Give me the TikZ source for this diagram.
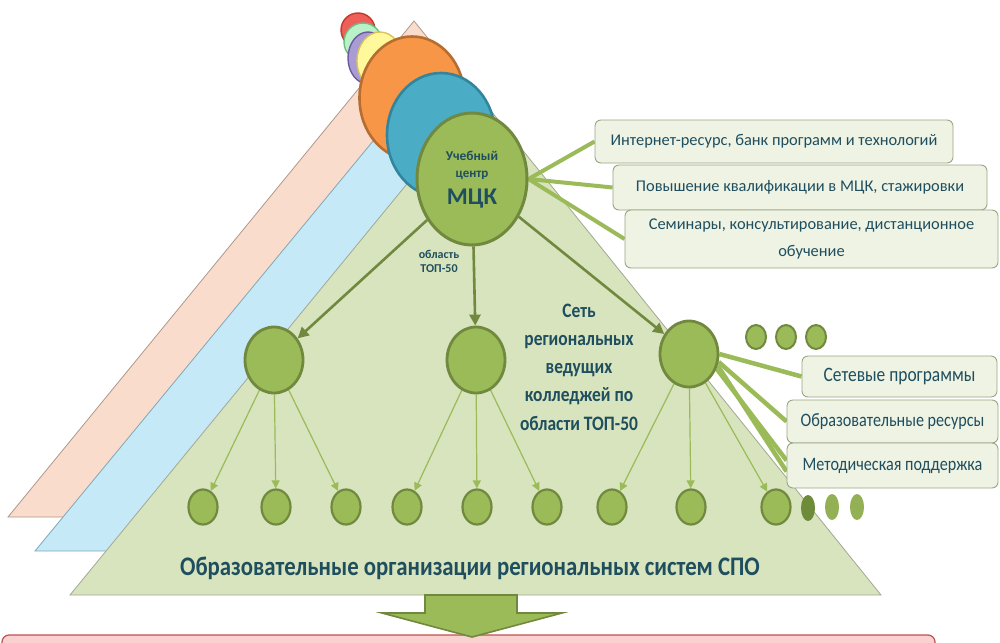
\documentclass[tikz,border=0pt]{standalone}
\usepackage{fontspec}
\setmainfont{Carlito}
\newfontfamily\condf[FakeStretch=0.85]{Carlito}
\usetikzlibrary{shapes.geometric,arrows.meta}
\pgfdeclarelayer{back}
\pgfdeclarelayer{links}
\pgfsetlayers{back,links,main}
\definecolor{trione}{HTML}{F9DCCB}
\definecolor{trionel}{HTML}{B09888}
\definecolor{tritwo}{HTML}{C6E9F8}
\definecolor{tritwol}{HTML}{7FA8B8}
\definecolor{trithree}{HTML}{D7E4BD}
\definecolor{trithreel}{HTML}{A3A892}
\definecolor{gfill}{HTML}{9BBB59}
\definecolor{gdark}{HTML}{71893F}
\definecolor{gdots}{HTML}{6E8B3A}
\definecolor{txt}{HTML}{1F4E5F}
\definecolor{boxfill}{HTML}{EEF3E4}
\definecolor{boxline}{HTML}{98A581}
\definecolor{cred}{HTML}{EF5F5A}
\definecolor{credl}{HTML}{C0392B}
\definecolor{cmint}{HTML}{B9F2C9}
\definecolor{cmintl}{HTML}{6DBE7F}
\definecolor{cpurp}{HTML}{A99BD3}
\definecolor{cpurpl}{HTML}{6B5B9E}
\definecolor{cyel}{HTML}{FFF99B}
\definecolor{cyell}{HTML}{D9C35C}
\definecolor{cora}{HTML}{F79646}
\definecolor{coral}{HTML}{B66D31}
\definecolor{cteal}{HTML}{4BACC6}
\definecolor{cteall}{HTML}{31859C}
\definecolor{redfill}{HTML}{FAD0D0}
\definecolor{redline}{HTML}{C0504D}
\tikzset{
  blob/.style n args={2}{ellipse, inner sep=0pt, minimum width=#1, minimum height=#2},
  scirc/.style={blob={29pt}{35pt}, fill=gfill, draw=gdark, line width=2.2pt},
  mcirc/.style={blob={58pt}{66pt}, fill=gfill, draw=gdark, line width=2.8pt},
  dotc/.style={blob={20pt}{24pt}, fill=gfill, draw=gdark, line width=2pt},
  infobox/.style={draw=boxline, fill=boxfill, rounded corners=6pt, line width=0.9pt, inner sep=0pt, text=txt, align=center},
  bigarrow/.style={draw=gdark, line width=2.6pt, -{Triangle[length=11pt,width=11pt]}},
  smallarrow/.style={draw=gfill, line width=1.2pt, -{Triangle[length=8pt,width=8pt]}},
  spoke/.style={draw=gfill, line width=4pt},
  lbl/.style={text=txt, inner sep=0pt, align=center},
}
\begin{document}
\begin{tikzpicture}[x=1pt,y=-1pt]
\useasboundingbox (0,0) rectangle (1000,642);
% background triangles
\begin{pgfonlayer}{back}
\filldraw[fill=trione, draw=trionel, line width=0.8pt] (414,21) -- (8,517) -- (815,517) -- cycle;
\filldraw[fill=tritwo, draw=tritwol, line width=0.8pt] (444,55) -- (35,551) -- (845,551) -- cycle;
\filldraw[fill=trithree, draw=trithreel, line width=0.8pt] (479,96) -- (70,595) -- (881,595) -- cycle;
\end{pgfonlayer}
% stacked discs
\node[blob={34pt}{34pt}, fill=cred, draw=credl, line width=1.4pt] (cr) at (358,30) {};
\node[blob={38pt}{38pt}, fill=cmint, draw=cmintl, line width=1.4pt] (cm) at (363,42) {};
\node[blob={40pt}{52pt}, fill=cpurp, draw=cpurpl, line width=1.4pt] (cp) at (368,58) {};
\node[blob={46pt}{58pt}, fill=cyel, draw=cyell, line width=1.4pt] (cy) at (380,61) {};
\node[blob={105pt}{123pt}, fill=cora, draw=coral, line width=2.6pt] (co) at (412,98) {};
\node[blob={108pt}{124pt}, fill=cteal, draw=cteall, line width=2.6pt] (ct) at (441,135) {};
% MCK
\node[blob={110pt}{132pt}, fill=gfill, draw=gdark, line width=3pt] (mck) at (472,179) {};
% top boxes
\node[infobox, minimum width=358pt, minimum height=43pt, font=\fontsize{16.4}{18}\selectfont] (t1) at (774,141.5) {Интернет-ресурс, банк программ и технологий};
\node[infobox, minimum width=374pt, minimum height=45pt, font=\fontsize{16.4}{18}\selectfont] (t2) at (800,187.5) {Повышение квалификации в МЦК, стажировки};
\node[infobox, minimum width=373pt, minimum height=58pt, font=\fontsize{16.4}{27}\selectfont] (t3) at (811.5,239) {Семинары, консультирование, дистанционное\\обучение};
% mid circles
\node[mcirc] (m1) at (274,360) {};
\node[mcirc] (m2) at (476,360) {};
\node[mcirc] (m3) at (689,354) {};
% bottom circles
\foreach \n/\x in {1/203,2/276,3/346,4/407,5/477,6/547,7/612,8/691,9/776}
  \node[scirc] (b\n) at (\x,507) {};
% dots
\node[dotc] (d1) at (756,337) {};
\node[dotc] (d2) at (786,337) {};
\node[dotc] (d3) at (816,337) {};
\node[blob={14pt}{26pt}, fill=gdots] (e1) at (808,508) {};
\node[blob={14pt}{26pt}, fill=gfill!80!gdark] (e2) at (832,507) {};
\node[blob={14pt}{26pt}, fill=gfill!80!gdark] (e3) at (857,507) {};
% right boxes
\node[infobox, minimum width=195pt, minimum height=41pt, font=\condf\fontsize{20.5}{22}\selectfont] (s1) at (899.5,376.5) {Сетевые программы};
\node[infobox, minimum width=211pt, minimum height=43pt, font=\condf\fontsize{19}{21}\selectfont] (s2) at (892.5,421.5) {Образовательные ресурсы};
\node[infobox, minimum width=211pt, minimum height=45pt, font=\condf\fontsize{19}{21}\selectfont] (s3) at (892.5,465.5) {Методическая поддержка};
% connectors
\begin{pgfonlayer}{links}
\draw[spoke] (mck.east) -- (t1.west);
\draw[spoke] (mck.east) -- (t2.west);
\draw[spoke] (mck.east) -- (t3.west);
\draw[bigarrow] (mck) -- (m1);
\draw[bigarrow] (mck) -- (m2);
\draw[bigarrow] (mck) -- (m3);
\draw[smallarrow] (m1) -- (b1);
\draw[smallarrow] (m1) -- (b2);
\draw[smallarrow] (m1) -- (b3);
\draw[smallarrow] (m2) -- (b4);
\draw[smallarrow] (m2) -- (b5);
\draw[smallarrow] (m2) -- (b6);
\draw[smallarrow] (m3) -- (b7);
\draw[smallarrow] (m3) -- (b8);
\draw[smallarrow] (m3) -- (b9);
\draw[spoke, line width=4.5pt] (m3.east) -- (s1.west);
\draw[spoke, line width=4.5pt] (m3.-15) -- (s2.west);
\draw[spoke, line width=4.5pt] (m3.-22) -- ([yshift=-6pt]s3.west);
\draw[spoke, line width=4.5pt] (m3.-28) -- ([yshift=5pt]s3.west);
\end{pgfonlayer}
% texts
\node[lbl, font=\bfseries\fontsize{13.5}{15}\selectfont] (tu) at (472,156) {Учебный};
\node[lbl, font=\bfseries\fontsize{13}{15}\selectfont] (tc) at (472,175) {центр};
\node[lbl, font=\bfseries\fontsize{24}{26}\selectfont] (tm) at (472,199) {МЦК};
\node[lbl, font=\bfseries\fontsize{12}{14}\selectfont] (ttop) at (439,261) {область\\ТОП-50};
\node[lbl, font=\condf\bfseries\fontsize{20.5}{28.3}\selectfont] (net) at (579,367) {Сеть\\региональных\\ведущих\\колледжей по\\области ТОП-50};
\node[lbl, font=\condf\bfseries\fontsize{26.8}{30}\selectfont] (org) at (470,568) {Образовательные организации региональных систем СПО};
% big arrow and result box
\node[draw=redline, fill=redfill, rounded corners=7pt, line width=1.2pt, minimum width=933pt, minimum height=40pt, inner sep=0pt] (res) at (468.5,655) {};
\filldraw[fill=gfill, draw=gdark, line width=1.6pt] (425,595) -- (517,595) -- (517,613) -- (562,613) -- (472,637) -- (382,613) -- (425,613) -- cycle;
\end{tikzpicture}
\end{document}
